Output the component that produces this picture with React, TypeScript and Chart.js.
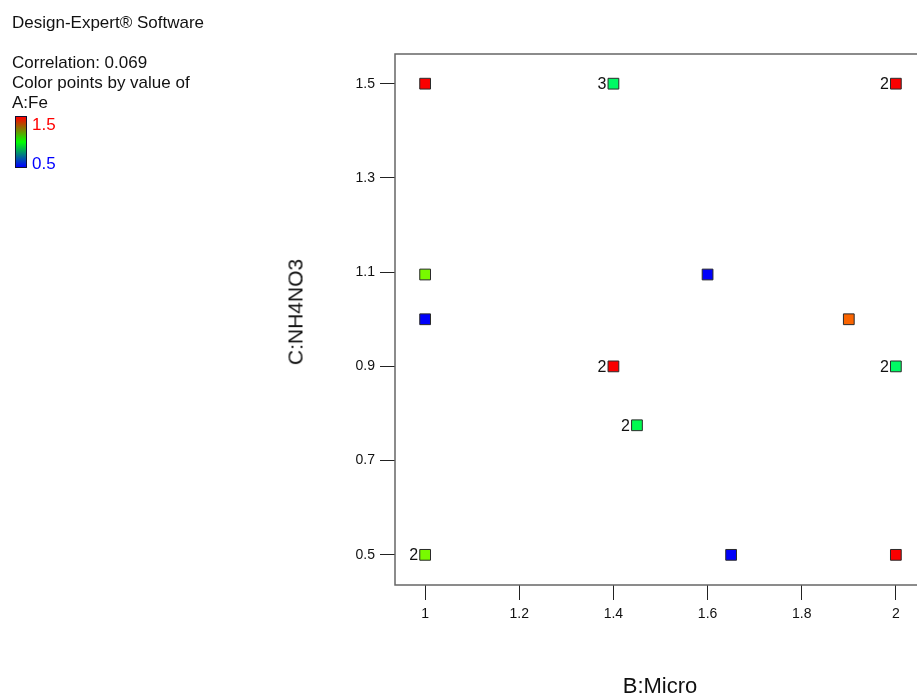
import React, { useEffect, useRef } from "react";
import { Chart, registerables } from "chart.js";

Chart.register(...registerables);

// B:Micro (x), C:NH4NO3 (y), A:Fe (colour), replicate counts (labels)
const microValues = [1, 1.4, 2, 1, 1, 1.6, 1.9, 1.4, 2, 1.45, 1, 1.65, 2];
const nh4no3Values = [1.5, 1.5, 1.5, 1.095, 1.0, 1.095, 1.0, 0.9, 0.9, 0.775, 0.5, 0.5, 0.5];
const feValues = [1.5, 0.9, 1.5, 1.12, 0.5, 0.5, 1.4, 1.5, 0.9, 0.92, 1.12, 0.5, 1.5];
const replicateLabels = ["", "3", "2", "", "", "", "", "2", "2", "2", "2", "", ""];
const xTickValues = [1, 1.2, 1.4, 1.6, 1.8, 2];
const yTickValues = [0.5, 0.7, 0.9, 1.1, 1.3, 1.5];

const FONT = "Arial, 'Liberation Sans', sans-serif";

function feColor(fe: number): string {
  const t = Math.min(1, Math.max(0, (1.5 - fe) / 1.0));
  const hue = 240 * t;
  return `hsl(${hue.toFixed(1)}, 100%, 49%)`;
}

const framePlugin = {
  id: "frameAndLabels",
  beforeDatasetsDraw(chart: any) {
    const { ctx, chartArea: a } = chart;
    ctx.save();
    ctx.strokeStyle = "#666666";
    ctx.lineWidth = 1.5;
    ctx.strokeRect(a.left, a.top, a.right - a.left, a.bottom - a.top);
    ctx.restore();
  },
  afterDatasetsDraw(chart: any) {
    const { ctx } = chart;
    const meta = chart.getDatasetMeta(0);
    ctx.save();
    ctx.font = `16px ${FONT}`;
    ctx.fillStyle = "#111111";
    ctx.textAlign = "right";
    ctx.textBaseline = "middle";
    meta.data.forEach((el: any, i: number) => {
      const lbl = replicateLabels[i];
      if (!lbl) return;
      ctx.fillText(lbl, el.x - 7, el.y + 1);
    });
    ctx.restore();
  },
};

function ScatterChart() {
  const ref = useRef<HTMLCanvasElement | null>(null);
  useEffect(() => {
    if (!ref.current) return;
    const points = microValues.map((x, i) => ({ x, y: nh4no3Values[i] }));
    const chart = new Chart(ref.current, {
      type: "scatter",
      data: {
        datasets: [
          {
            data: points,
            pointStyle: "rect",
            pointRadius: 7.6,
            pointBorderWidth: 1,
            borderColor: "#2a2a2a",
            backgroundColor: feValues.map(feColor),
          } as any,
        ],
      },
      options: {
        responsive: false,
        animation: false,
        events: [],
        devicePixelRatio: 1,
        layout: { padding: { left: 0, top: 54, right: 14, bottom: 0 } },
        plugins: { legend: { display: false }, tooltip: { enabled: false } },
        scales: {
          x: {
            type: "linear",
            min: 0.936,
            max: 2.064,
            afterFit: (s: any) => {
              s.height = 108;
            },
            afterBuildTicks: (s: any) => {
              s.ticks = xTickValues.map((v) => ({ value: v }));
            },
            border: { display: false },
            grid: {
              display: true,
              drawOnChartArea: false,
              drawTicks: true,
              tickLength: 15,
              tickColor: "#222222",
              tickWidth: 1,
            },
            ticks: {
              padding: 6,
              color: "#111111",
              font: { family: FONT, size: 14 },
              callback: (v: any) => String(v),
            },
          },
          y: {
            type: "linear",
            min: 0.436,
            max: 1.563,
            afterFit: (s: any) => {
              s.width = 395;
            },
            afterBuildTicks: (s: any) => {
              s.ticks = yTickValues.map((v) => ({ value: v }));
            },
            border: { display: false },
            grid: {
              display: true,
              drawOnChartArea: false,
              drawTicks: true,
              tickLength: 15,
              tickColor: "#222222",
              tickWidth: 1,
            },
            ticks: {
              padding: 5,
              color: "#111111",
              font: { family: FONT, size: 14 },
              callback: (v: any) => Number(v).toFixed(1),
            },
          },
        },
      },
      plugins: [framePlugin],
    });
    return () => chart.destroy();
  }, []);
  return <canvas ref={ref} width={940} height={693} style={{ display: "block", width: 940, height: 693 }} />;
}

const textBase: React.CSSProperties = {
  position: "absolute",
  fontFamily: FONT,
  fontSize: 17,
  lineHeight: "20px",
  color: "#111111",
  whiteSpace: "nowrap",
  margin: 0,
};

export default function App() {
  return (
    <div
      style={{
        position: "fixed",
        left: 0,
        top: 0,
        width: 917,
        height: 693,
        overflow: "hidden",
        background: "#ffffff",
      }}
    >
      <div style={{ position: "absolute", left: 0, top: 0 }}>
        <ScatterChart />
      </div>
      <div style={{ ...textBase, left: 12, top: 12.5 }}>Design-Expert® Software</div>
      <div style={{ ...textBase, left: 12, top: 53 }}>
        Correlation: 0.069
        <br />
        Color points by value of
        <br />
        A:Fe
      </div>
      <div
        style={{
          position: "absolute",
          left: 15,
          top: 116,
          width: 12,
          height: 52,
          boxSizing: "border-box",
          border: "1.5px solid #101030",
          background: "linear-gradient(to bottom, #ff0000, #00ff00 50%, #0000ff)",
        }}
      />
      <div style={{ ...textBase, left: 32, top: 115, color: "#ff0000" }}>1.5</div>
      <div style={{ ...textBase, left: 32, top: 154, color: "#0000ff" }}>0.5</div>
      <div
        style={{
          ...textBase,
          fontSize: 22,
          lineHeight: "22px",
          left: 660,
          top: 675,
          transform: "translateX(-50%)",
        }}
      >
        B:Micro
      </div>
      <div
        style={{
          ...textBase,
          fontSize: 21,
          lineHeight: "21px",
          left: 295,
          top: 312,
          transform: "translate(-50%, -50%) rotate(-90deg)",
        }}
      >
        C:NH4NO3
      </div>
    </div>
  );
}
